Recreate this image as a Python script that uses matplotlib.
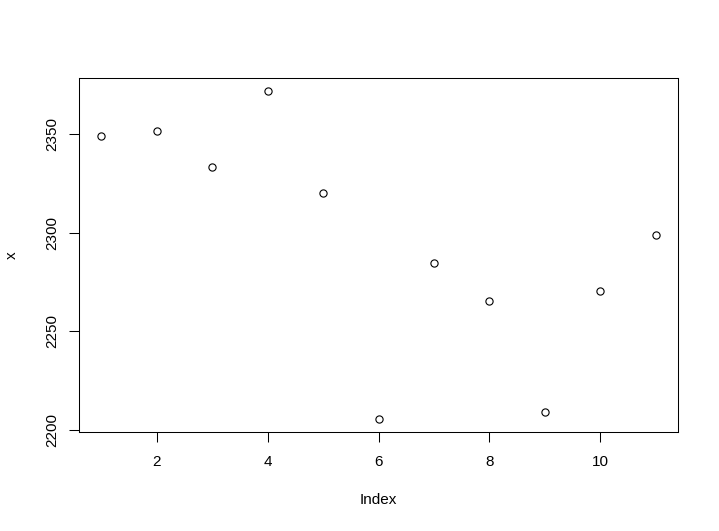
import matplotlib
matplotlib.use("Agg")
import matplotlib.pyplot as plt

index = [1, 2, 3, 4, 5, 6, 7, 8, 9, 10, 11]
values = [2349.1, 2351.7, 2333.3, 2371.8, 2320.3, 2205.7, 2284.8, 2265.4, 2209.1, 2270.5, 2298.8]
xticks = [2, 4, 6, 8, 10]
yticks = [2200, 2250, 2300, 2350]

plt.rcParams['font.family'] = ['Liberation Sans', 'DejaVu Sans']

W, H = 719, 531
fig = plt.figure(figsize=(W / 100, H / 100), dpi=100)
left, right, top, bottom = 79, 678, 78, 432
ax = fig.add_axes([left / W, (H - bottom) / H, (right - left) / W, (bottom - top) / H])

ax.plot(index, values, linestyle='none', marker='o', markersize=5.2,
        markerfacecolor='none', markeredgecolor='black', markeredgewidth=0.8)

ax.margins(x=0.04, y=0.04)
ax.set_xticks(xticks)
ax.set_yticks(yticks)
ax.set_yticklabels([str(v) for v in yticks], rotation=90, va='center')
ax.tick_params(direction='out', length=7.5, width=0.75, labelsize=11, color='black')
ax.tick_params(axis='x', pad=9)
ax.tick_params(axis='y', pad=7)
for s in ax.spines.values():
    s.set_linewidth(0.75)
    s.set_color('black')

ax.set_xlabel('Index', fontsize=11, labelpad=17)
ax.set_ylabel('x', fontsize=11, labelpad=19)

fig.savefig('out.png', dpi=100)
